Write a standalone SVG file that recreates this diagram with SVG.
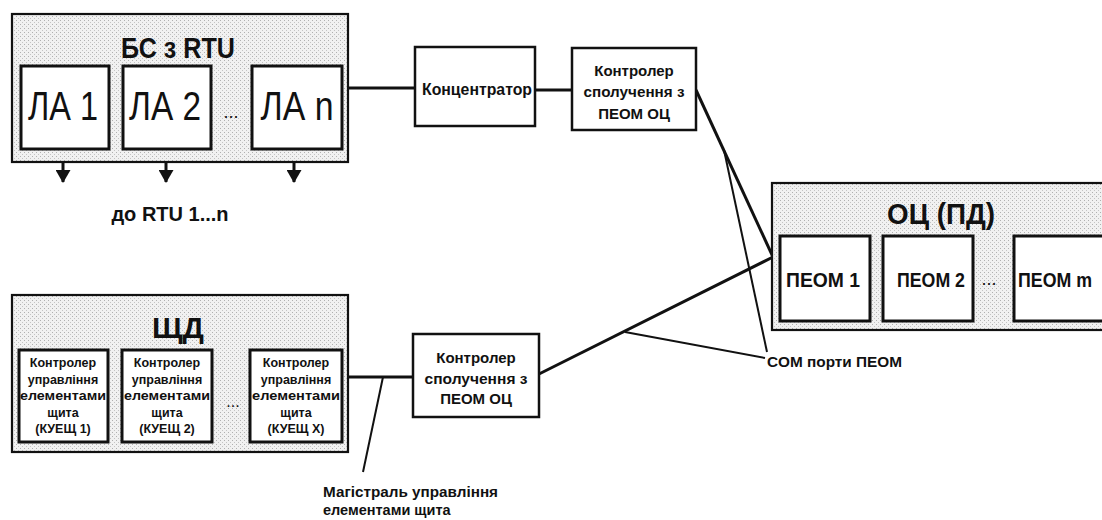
<svg xmlns="http://www.w3.org/2000/svg" width="1102" height="520" viewBox="0 0 1102 520">
<defs>
<pattern id="dots" width="4" height="4" patternUnits="userSpaceOnUse">
<rect width="4" height="4" fill="#f1f1f1"/>
<rect x="0" y="0" width="1" height="1" fill="#b0b0b0"/>
<rect x="2" y="2" width="1" height="1" fill="#c4c4c4"/>
</pattern>
<marker id="arr" viewBox="0 0 13 15" refX="12" refY="7.5" markerWidth="13" markerHeight="15" markerUnits="userSpaceOnUse" orient="auto">
<path d="M0,0 L13,7.5 L0,15 Z" fill="#111"/>
</marker>
<style>
.outer{fill:url(#dots);stroke:#111;stroke-width:2.2}
.inner{fill:#fff;stroke:#111;stroke-width:3}
.box{fill:#fff;stroke:#111;stroke-width:2.5}
.t{font-family:"Liberation Sans",Arial,sans-serif;fill:#111;text-anchor:middle}
.b{font-weight:bold}
.big{font-size:40px}
.sm{font-size:15px;font-weight:bold}
.xs{font-size:12.5px;font-weight:bold}
.pe{font-size:21px;font-weight:bold}
.ln{stroke:#111;stroke-width:3;fill:none}
.thin{stroke:#111;stroke-width:2;fill:none}
</style>
</defs>
<rect width="1102" height="520" fill="#fff"/>

<g id="connectors">
<line class="ln" x1="342" y1="88" x2="415" y2="88"/>
<line class="ln" x1="535" y1="90" x2="572" y2="90"/>
<line class="ln" x1="696" y1="90" x2="773" y2="257"/>
<line class="thin" x1="724" y1="150" x2="767" y2="352"/>
<line class="ln" x1="342" y1="377" x2="413" y2="377"/>
<line class="ln" x1="539" y1="374" x2="773" y2="257"/>
<line class="thin" x1="625" y1="332" x2="765" y2="358"/>
<line class="thin" x1="383" y1="377" x2="363" y2="472"/>
<line class="ln" x1="63" y1="149" x2="63" y2="182" marker-end="url(#arr)"/>
<line class="ln" x1="166" y1="149" x2="166" y2="182" marker-end="url(#arr)"/>
<line class="ln" x1="294" y1="149" x2="294" y2="182" marker-end="url(#arr)"/>
</g>

<g id="bs-rtu">
<rect class="outer" x="12" y="14" width="336" height="148"/>
<text class="t" x="178" y="58" font-size="29" textLength="114" lengthAdjust="spacingAndGlyphs" font-weight="bold">БС з RTU</text>
<g id="la1"><rect class="inner" x="21" y="66" width="88" height="83"/><text class="t big" x="63" y="120" textLength="70" lengthAdjust="spacingAndGlyphs">ЛА 1</text></g>
<g id="la2"><rect class="inner" x="123" y="66" width="88" height="83"/><text class="t big" x="165" y="120" textLength="72" lengthAdjust="spacingAndGlyphs">ЛА 2</text></g>
<text class="t" x="231" y="118" font-size="18">...</text>
<g id="lan"><rect class="inner" x="252" y="66" width="90" height="83"/><text class="t big" x="297" y="120" textLength="73" lengthAdjust="spacingAndGlyphs">ЛА n</text></g>
</g>
<text class="t b" x="170" y="221" font-size="20">до RTU 1...n</text>

<g id="koncentrator">
<rect class="box" x="415" y="47" width="120" height="79"/>
<text class="t" x="477" y="95" font-size="16" font-weight="bold" textLength="110" lengthAdjust="spacingAndGlyphs">Концентратор</text>
</g>

<g id="controller-top">
<rect class="box" x="572" y="48" width="124" height="82"/>
<text class="t sm" x="634" y="76">Контролер</text>
<text class="t sm" x="634" y="97" textLength="101" lengthAdjust="spacingAndGlyphs">сполучення з</text>
<text class="t sm" x="634" y="119">ПЕОМ ОЦ</text>
</g>

<g id="oc-pd">
<rect class="outer" x="772" y="183" width="340" height="147"/>
<text class="t" x="941" y="224" font-size="29" font-weight="bold" textLength="108" lengthAdjust="spacingAndGlyphs">ОЦ (ПД)</text>
<g id="peom1"><rect class="inner" x="780" y="236" width="90" height="85"/><text class="t pe" x="823" y="287" textLength="74" lengthAdjust="spacingAndGlyphs">ПЕОМ 1</text></g>
<g id="peom2"><rect class="inner" x="883" y="236" width="90" height="85"/><text class="t pe" x="931" y="287" textLength="68" lengthAdjust="spacingAndGlyphs">ПЕОМ 2</text></g>
<text class="t" x="989" y="285" font-size="18">...</text>
<g id="peomm"><rect class="inner" x="1014" y="236" width="100" height="85"/><text class="t pe" x="1055" y="287" textLength="74" lengthAdjust="spacingAndGlyphs">ПЕОМ m</text></g>
</g>
<text class="t" x="767" y="367" font-size="15" font-weight="bold" style="text-anchor:start" textLength="135" lengthAdjust="spacingAndGlyphs">COM порти ПЕОМ</text>

<g id="shchd">
<rect class="outer" x="12" y="295" width="336" height="157"/>
<text class="t" x="178" y="338" font-size="30" font-weight="bold">ЩД</text>
<g id="kuesh1"><rect class="inner" x="19" y="350" width="89" height="92"/>
<text class="t xs" x="63" y="367">Контролер</text>
<text class="t xs" x="63" y="384">управління</text>
<text class="t xs" x="63" y="400" textLength="86" lengthAdjust="spacingAndGlyphs">елементами</text>
<text class="t xs" x="63" y="417">щита</text>
<text class="t xs" x="63" y="433">(КУЕЩ 1)</text></g>
<g id="kuesh2"><rect class="inner" x="122" y="350" width="90" height="92"/>
<text class="t xs" x="167" y="367">Контролер</text>
<text class="t xs" x="167" y="384">управління</text>
<text class="t xs" x="167" y="400" textLength="86" lengthAdjust="spacingAndGlyphs">елементами</text>
<text class="t xs" x="167" y="417">щита</text>
<text class="t xs" x="167" y="433">(КУЕЩ 2)</text></g>
<text class="t" x="233" y="407" font-size="16">...</text>
<g id="kueshx"><rect class="inner" x="250" y="350" width="92" height="92"/>
<text class="t xs" x="296" y="367">Контролер</text>
<text class="t xs" x="296" y="384">управління</text>
<text class="t xs" x="296" y="400" textLength="88" lengthAdjust="spacingAndGlyphs">елементами</text>
<text class="t xs" x="296" y="417">щита</text>
<text class="t xs" x="296" y="433">(КУЕЩ X)</text></g>
</g>

<g id="controller-bottom">
<rect class="box" x="413" y="334" width="126" height="83"/>
<text class="t sm" x="476" y="363">Контролер</text>
<text class="t sm" x="476" y="384" textLength="103" lengthAdjust="spacingAndGlyphs">сполучення з</text>
<text class="t sm" x="476" y="404">ПЕОМ ОЦ</text>
</g>

<g id="magistral-label">
<text class="t" x="323" y="497" font-size="14.5" font-weight="bold" style="text-anchor:start" textLength="175" lengthAdjust="spacingAndGlyphs">Магістраль управління</text>
<text class="t" x="323" y="515" font-size="14.5" font-weight="bold" style="text-anchor:start">елементами щита</text>
</g>
</svg>
